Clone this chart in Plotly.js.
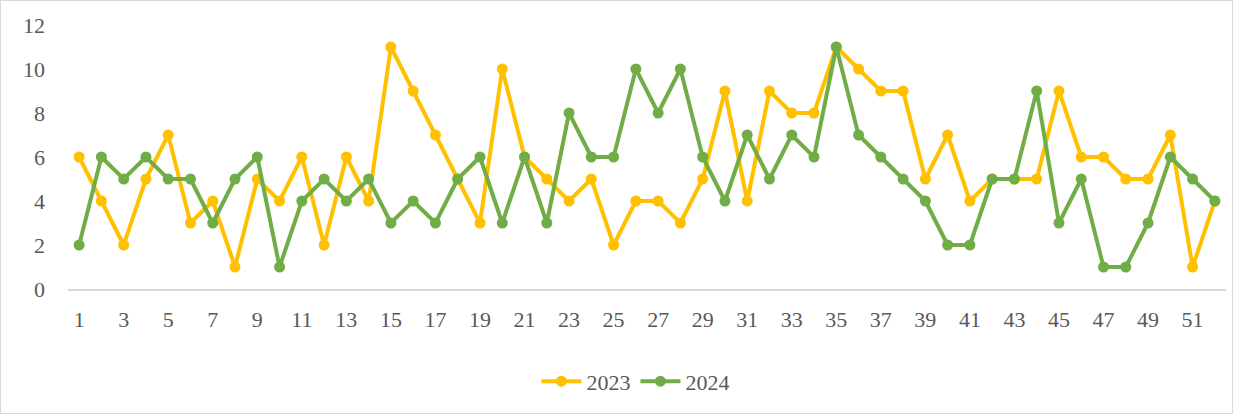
<!DOCTYPE html>
<html>
<head>
<meta charset="utf-8">
<script src="https://cdn.plot.ly/plotly-3.0.1.min.js"></script>
<style>
html,body{margin:0;padding:0;background:#fff;}
#chart{width:1231px;height:412px;border:1px solid #d9d9d9;}
</style>
</head>
<body>
<div id="chart"></div>
<script>
const weeks = [1,2,3,4,5,6,7,8,9,10,11,12,13,14,15,16,17,18,19,20,21,22,23,24,25,26,27,28,29,30,31,32,33,34,35,36,37,38,39,40,41,42,43,44,45,46,47,48,49,50,51,52];
const values2023 = [6,4,2,5,7,3,4,1,5,4,6,2,6,4,11,9,7,5,3,10,6,5,4,5,2,4,4,3,5,9,4,9,8,8,11,10,9,9,5,7,4,5,5,5,9,6,6,5,5,7,1,4];
const values2024 = [2,6,5,6,5,5,3,5,6,1,4,5,4,5,3,4,3,5,6,3,6,3,8,6,6,10,8,10,6,4,7,5,7,6,11,7,6,5,4,2,2,5,5,9,3,5,1,1,3,6,5,4];
const xTicks = [1,3,5,7,9,11,13,15,17,19,21,23,25,27,29,31,33,35,37,39,41,43,45,47,49,51];
const yTicks = [0,2,4,6,8,10,12];
const seriesNames = ['2023','2024'];

const font = {family: '"Liberation Serif", "DejaVu Serif", serif', size: 22, color: '#595959'};

const traces = [
  {x: weeks, y: values2023, name: seriesNames[0], type: 'scatter', mode: 'lines+markers',
   line: {color: '#FFC000', width: 4}, marker: {color: '#FFC000', size: 11}},
  {x: weeks, y: values2024, name: seriesNames[1], type: 'scatter', mode: 'lines+markers',
   line: {color: '#70AD47', width: 4}, marker: {color: '#70AD47', size: 11}}
];

const layout = {
  width: 1231, height: 412,
  margin: {l: 67, r: 6, t: 24, b: 124},
  paper_bgcolor: '#fff', plot_bgcolor: '#fff',
  font: font,
  showlegend: true,
  legend: {orientation: 'h', x: 0.49, xanchor: 'center', xref: 'paper', y: -0.35, yanchor: 'middle',
           font: font, itemwidth: 40, tracegroupgap: 0},
  xaxis: {range: [0.5, 52.5], tickmode: 'array', tickvals: xTicks, ticktext: xTicks.map(String),
          showgrid: false, zeroline: false, showline: true, linecolor: '#d9d9d9', linewidth: 1.5,
          ticks: '', ticklabelstandoff: 10, tickfont: font, fixedrange: true},
  yaxis: {range: [0, 12], tickmode: 'array', tickvals: yTicks, ticktext: yTicks.map(String),
          showgrid: false, zeroline: false, showline: false, ticks: '',
          ticklabelstandoff: 22, tickfont: font, fixedrange: true}
};

Plotly.newPlot('chart', traces, layout, {displayModeBar: false, staticPlot: true});
</script>
</body>
</html>
